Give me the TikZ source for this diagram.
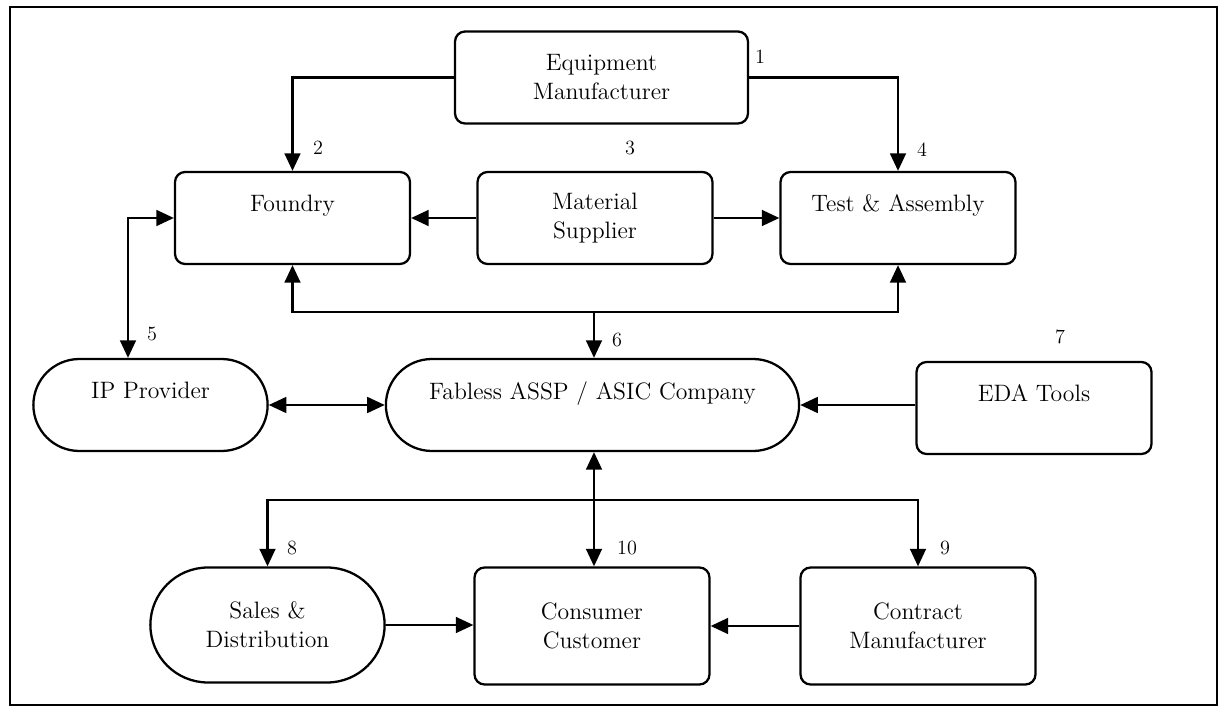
\documentclass[tikz,border=0pt]{standalone}
\usetikzlibrary{arrows.meta,shapes.misc}

\tikzset{
    block/.style={draw, line width=1.3pt, rounded corners=0.2cm, align=center,
                  minimum width=4.7cm, minimum height=1.84cm,
                  font=\fontsize{13.5}{16.5}\selectfont},
    pill/.style={block, rounded rectangle, rounded corners=0pt, minimum width=4.92cm},
    link/.style={line width=1.3pt, -{Triangle[length=10pt,width=9pt]}},
    twolink/.style={line width=1.3pt, {Triangle[length=10pt,width=9pt]}-{Triangle[length=10pt,width=9pt]}},
    num/.style={font=\fontsize{11.5}{13}\selectfont}
}

\begin{document}
\begin{tikzpicture}[x=0.02cm, y=-0.02cm]
    \useasboundingbox (0,0) rectangle (1221,709);
    \draw[line width=1.3pt] (10,7) rectangle (1217,705);

    % Top rows
    \node[block, minimum width=5.86cm] (em) at (601.5,77.5) {Equipment\\Manufacturer};
    \node[block] (fdy) at (292.5,218) {Foundry\\\mbox{}};
    \node[block] (mat) at (595,218) {Material\\Supplier};
    \node[block] (tst) at (898,218) {Test \& Assembly\\\mbox{}};

    % Middle row
    \node[pill] (ip) at (150.5,405) {IP Provider\\\mbox{}};
    \node[pill, minimum width=8.5cm] (fab) at (592.5,405) {Fabless ASSP / ASIC Company\\\mbox{}};
    \node[block] (eda) at (1034,408) {EDA Tools\\\mbox{}};

    % Bottom row
    \node[pill, minimum height=2.3cm] (sal) at (267.5,625) {Sales \&\\Distribution};
    \node[block, minimum height=2.34cm] (con) at (592,626) {Consumer\\Customer};
    \node[block, minimum height=2.34cm] (ctr) at (918,626) {Contract\\Manufacturer};

    % Connectors
    \draw[link] (em.west) -| (fdy.north);
    \draw[link] (em.east) -| (tst.north);
    \draw[link] (mat.west) -- (fdy.east);
    \draw[link] (mat.east) -- (tst.west);

    \coordinate (topbus) at (594,312);
    \draw[twolink] (fdy.south) |- (topbus) -| (tst.south);
    \draw[link] (topbus) -- (topbus |- fab.north);

    \draw[twolink] (fdy.west) -| ([xshift=-0.45cm]ip.north);
    \draw[twolink] (ip.east) -- (fab.west);
    \draw[link] (eda.west |- fab.east) -- (fab.east);

    \coordinate (botbus) at (594,500);
    \draw[twolink] (sal.north) |- (botbus) -| (ctr.north);
    \draw[twolink] (fab.south -| botbus) -- (con.north -| botbus);
    \draw[link] (sal.east) -- (sal.east -| con.west);
    \draw[link] (ctr.west) -- (con.east);

    % Numbers
    \foreach \n/\x/\y in {1/760/57, 2/318/148, 3/630/148, 4/922/150, 5/152/334,
                          6/617/340, 7/1060/337, 8/292/548, 10/627/548, 9/945/548} {
        \node[num] (n\n) at (\x,\y) {\n};
    }
\end{tikzpicture}
\end{document}
